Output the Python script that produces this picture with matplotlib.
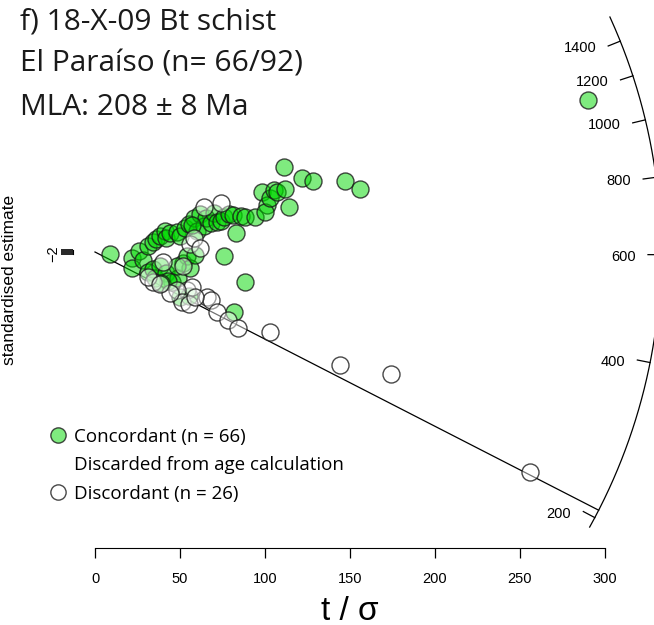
import numpy as np
import matplotlib
matplotlib.use("Agg")
import matplotlib.pyplot as plt
from matplotlib.lines import Line2D

# grains: x = t/sigma, y = standardised estimate
conc_x = [9, 22, 22, 26, 28, 31, 34, 36, 38, 41, 42, 44, 48, 50, 53, 55, 58, 60, 62, 64,
          65, 68, 70, 72, 74, 76, 79, 81, 83, 86, 88, 94, 98, 101, 100, 103, 105, 107, 112, 114,
          111, 122, 128, 147, 156,
          31, 34, 35, 38, 42, 45, 49, 52, 54, 50, 43, 76, 88, 82, 56, 48, 39, 57, 59, 55,
          290]
conc_y = [-2, -7, -20, 1, -10, 7, 12, 16, 20, 26, 17, 23, 25, 20, 29, 34, 42, 26, 47, 32,
          42, 36, 48, 37, 38, 43, 47, 45, 23, 44, 43, 43, 74, 58, 49, 66, 76, 74, 77, 55,
          104, 91, 87, 87, 77,
          -25, -21, -32, -17, -26, -37, -32, -13, -5, -55, -36, -5, -37, -74, -20, -17, -38, 33, -4, -54,
          186]

disc_x = [56, 58, 74, 64, 54, 57, 66, 68, 72, 78, 84, 103, 48, 51, 44, 55, 34, 31, 38, 40,
          144, 174, 256, 62, 59, 52]
disc_y = [10, 17, 60, 55, -47, -43, -55, -59, -74, -83, -93, -98, -47, -61, -50, -64, -37, -31, -39, -12,
          -139, -150, -270, 5, -55, -17]

t0 = 606.0          # reference age (horizontal direction), Ma
central_age = 208.0
arc_ages = [200, 400, 600, 800, 1000, 1200, 1400]
arc_min, arc_max = 190, 1570
xticks = [0, 50, 100, 150, 200, 250, 300]

# pixel scale of the two axes
sx, sy = 1.7, 0.815
R = 566.0  # arc radius in pixels


def ang(t):
    return np.arctan(sy / sx * np.log(t / t0))


def polar(theta, r):
    return r * np.cos(theta) / sx, r * np.sin(theta) / sy


fig = plt.figure(figsize=(6.54, 6.25), dpi=100)
ax = fig.add_axes([0, 0, 1, 1])
ax.set_xlim(-95 / sx, 559 / sx)
ax.set_ylim(-373 / sy, 252 / sy)
ax.patch.set_alpha(0)

green = (0.0, 0.85, 0.0, 0.5)
edge = (0.1, 0.1, 0.1, 0.8)

# arc
th = np.linspace(ang(arc_min), ang(arc_max), 300)
ax_, ay_ = polar(th, R)
ax.plot(ax_, ay_, color="black", lw=0.9, clip_on=False)
for a in arc_ages:
    t = ang(a)
    x1, y1 = polar(t, R)
    x2, y2 = polar(t, R - 13)
    ax.plot([x1, x2], [y1, y2], color="black", lw=0.9, clip_on=False)
    ax.text(x2 - 12 / sx, y2 - 2 / sy, str(a), ha="right", va="center", fontsize=10.5,
            family="Liberation Sans")

# central line
cx, cy = polar(ang(central_age), R)
ax.plot([0, cx], [0, cy], color="black", lw=0.9)

ax.scatter(conc_x, conc_y, s=150, facecolor=green, edgecolor=edge, linewidth=1, zorder=3)
ax.scatter(disc_x, disc_y, s=150, facecolor=(1, 1, 1, 0.45), edgecolor=edge, linewidth=1, zorder=4)

# axes
for s in ["top", "right"]:
    ax.spines[s].set_visible(False)
ax.spines["bottom"].set_position(("data", (252 - 548) / sy))
ax.spines["bottom"].set_bounds(0, 300)
ax.spines["left"].set_position(("data", -22 / sx))
ax.spines["left"].set_bounds(-2, 2)
ax.set_xticks(xticks)
ax.set_xticklabels([str(v) for v in xticks], fontsize=10.5, family="Liberation Sans")
ax.tick_params(axis="x", length=7, width=0.9, pad=10)
ax.set_yticks([-2, 0, 2])
ax.set_yticklabels(["\u22122", "", ""], rotation=90, fontsize=10.5, family="Liberation Sans",
                   va="center")
ax.tick_params(axis="y", length=9, width=1.2, pad=0.5)

fig.text(350 / 654, 1 - 611 / 625, "t / \u03c3", ha="center", va="center", fontsize=24,
         family="Liberation Sans")
fig.text(10 / 654, 1 - 280 / 625, "standardised estimate", rotation=90, ha="center",
         va="center", fontsize=12.5, family="Liberation Sans")

title_lines = ["f) 18-X-09 Bt schist", "El Para\u00edso (n= 66/92)", "MLA: 208 \u00b1 8 Ma"]
for i, line in enumerate(title_lines):
    fig.text(20 / 654, 1 - (29 + 43 * i) / 625, line, ha="left", va="baseline",
             fontsize=21.5, family="Open Sans", color="#1a1a1a")

handles = [
    Line2D([], [], marker="o", ls="none", markersize=11, markerfacecolor=green,
           markeredgecolor=edge),
    Line2D([], [], ls="none"),
    Line2D([], [], marker="o", ls="none", markersize=11, markerfacecolor="white",
           markeredgecolor=edge),
]
labels = ["Concordant (n = 66)", "Discarded from age calculation", "Discordant (n = 26)"]
ax.legend(handles, labels, loc="upper left", bbox_to_anchor=(50 / 654, 1 - 428 / 625),
          bbox_transform=fig.transFigure, frameon=False, borderpad=0, borderaxespad=0,
          handlelength=0.8, handletextpad=0.5, labelspacing=0.55,
          prop={"family": "Open Sans", "size": 13.5})

fig.savefig("out.png", dpi=100)
